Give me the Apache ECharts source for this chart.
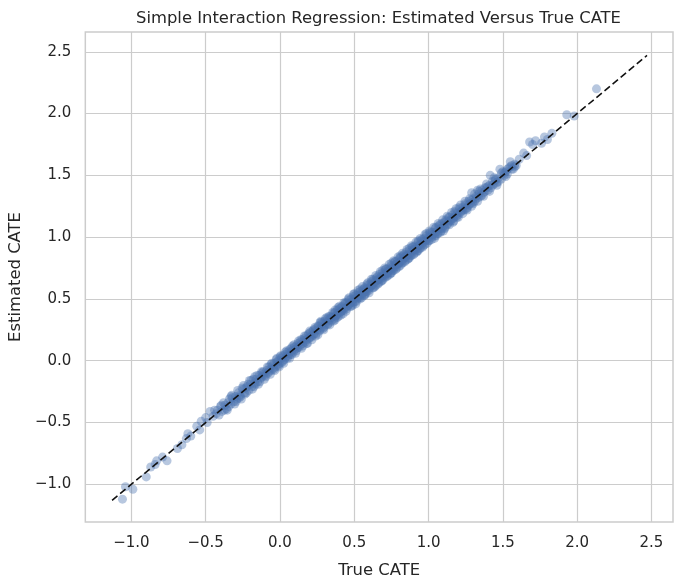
<!DOCTYPE html>
<html><head><meta charset="utf-8">
<script src="https://cdn.jsdelivr.net/npm/echarts@6/dist/echarts.min.js"></script>
<style>html,body{margin:0;padding:0;background:#fff}#c{width:684px;height:584px}</style>
</head><body><div id="c"></div>
<script>
// [True CATE, Estimated CATE] pairs
const cateSamples = [
[-1.06,-1.12],[-1.04,-1.02],[-0.99,-1.04],[-0.90,-0.94],[-0.87,-0.86],[-0.84,-0.84],[-0.83,-0.81],[-0.79,-0.78],[-0.76,-0.81],[-0.69,-0.71],[-0.66,-0.68],[-0.63,-0.63],[-0.62,-0.59],[-0.60,-0.61],[-0.56,-0.53],[-0.54,-0.56],[-0.53,-0.49],[-0.50,-0.46],[-0.49,-0.50],[-0.47,-0.41],[-0.45,-0.45],[-0.43,-0.43],[-0.42,-0.40],
[-0.40,-0.37],[-0.39,-0.41],[-0.37,-0.36],[-0.36,-0.39],[-0.35,-0.34],[-0.34,-0.31],[-0.33,-0.35],[-0.32,-0.30],[-0.31,-0.33],[-0.30,-0.29],[-0.29,-0.31],[-0.28,-0.26],[-0.27,-0.28],[-0.26,-0.31],[-0.25,-0.23],[-0.24,-0.26],[-0.23,-0.22],[-0.22,-0.21],[-0.21,-0.24],
[-0.20,-0.19],[-0.19,-0.21],[-0.18,-0.15],[-0.17,-0.18],[-0.165,-0.19],[-0.16,-0.15],[-0.15,-0.17],[-0.14,-0.12],[-0.13,-0.14],[-0.12,-0.13],[-0.115,-0.09],[-0.11,-0.11],[-0.10,-0.12],[-0.09,-0.08],[-0.08,-0.10],[-0.075,-0.05],[-0.07,-0.07],[-0.06,-0.08],[-0.05,-0.04],[-0.045,-0.06],[-0.04,-0.02],[-0.03,-0.05],[-0.02,-0.01],[-0.015,-0.03],[-0.01,0.00],[0.00,-0.02],
[0.01,0.02],[0.015,-0.01],[0.02,0.04],[0.03,0.01],[0.035,0.05],[0.04,0.03],[0.05,0.07],[0.055,0.04],[0.06,0.06],[0.07,0.05],[0.075,0.10],[0.08,0.08],[0.09,0.07],[0.095,0.11],[0.10,0.09],[0.11,0.12],[0.115,0.10],[0.12,0.14],[0.13,0.11],[0.135,0.15],[0.14,0.13],[0.15,0.17],[0.155,0.14],[0.16,0.16],[0.17,0.15],[0.175,0.20],[0.18,0.17],[0.19,0.21],[0.195,0.18],[0.20,0.19],
[0.205,0.23],[0.21,0.20],[0.22,0.24],[0.225,0.21],[0.23,0.22],[0.24,0.26],[0.245,0.22],[0.25,0.25],[0.26,0.28],[0.265,0.24],[0.27,0.31],[0.28,0.27],[0.285,0.30],[0.29,0.26],[0.30,0.32],[0.305,0.29],[0.31,0.31],[0.32,0.34],[0.325,0.30],[0.33,0.33],[0.34,0.36],[0.345,0.32],[0.35,0.35],[0.36,0.38],[0.365,0.34],[0.37,0.39],[0.375,0.36],[0.38,0.37],[0.385,0.41],[0.39,0.38],[0.395,0.36],[0.40,0.42],
[0.405,0.39],[0.41,0.43],[0.415,0.40],[0.42,0.44],[0.425,0.42],[0.43,0.41],[0.435,0.46],[0.44,0.43],[0.45,0.47],[0.455,0.44],[0.46,0.45],[0.465,0.49],[0.47,0.46],[0.475,0.44],[0.48,0.50],[0.485,0.48],[0.49,0.47],[0.495,0.52],[0.50,0.50],[0.505,0.48],[0.51,0.53],[0.515,0.51],[0.52,0.50],[0.525,0.55],[0.53,0.52],[0.535,0.51],[0.54,0.56],[0.545,0.54],[0.55,0.53],[0.555,0.57],[0.56,0.55],[0.565,0.53],[0.57,0.59],[0.575,0.56],[0.58,0.58],[0.585,0.56],[0.59,0.61],[0.595,0.58],[0.60,0.59],
[0.605,0.62],[0.61,0.60],[0.615,0.64],[0.62,0.61],[0.625,0.59],[0.63,0.65],[0.635,0.63],[0.64,0.64],[0.645,0.61],[0.65,0.67],[0.655,0.65],[0.66,0.66],[0.665,0.63],[0.67,0.70],[0.675,0.66],[0.68,0.68],[0.685,0.65],[0.69,0.71],[0.695,0.69],[0.70,0.70],[0.705,0.67],[0.71,0.74],[0.715,0.70],[0.72,0.72],[0.725,0.69],[0.73,0.75],[0.735,0.73],[0.74,0.74],[0.745,0.71],[0.75,0.77],[0.755,0.74],[0.76,0.76],[0.765,0.73],[0.77,0.80],[0.775,0.76],[0.78,0.78],[0.785,0.75],[0.79,0.81],[0.795,0.78],[0.80,0.79],
[0.805,0.83],[0.81,0.80],[0.815,0.84],[0.82,0.81],[0.825,0.79],[0.83,0.85],[0.835,0.83],[0.84,0.84],[0.845,0.81],[0.85,0.88],[0.855,0.85],[0.86,0.86],[0.865,0.83],[0.87,0.89],[0.875,0.86],[0.88,0.88],[0.885,0.85],[0.89,0.92],[0.895,0.89],[0.90,0.90],[0.905,0.87],[0.91,0.93],[0.915,0.90],[0.92,0.92],[0.925,0.89],[0.93,0.96],[0.935,0.93],[0.94,0.94],[0.945,0.91],[0.95,0.97],[0.955,0.94],[0.96,0.96],[0.965,0.93],[0.97,0.99],[0.98,0.97],[0.985,1.01],[0.99,0.98],[1.00,1.00],
[1.005,0.97],[1.01,1.03],[1.02,1.00],[1.025,1.04],[1.03,1.02],[1.04,1.01],[1.045,1.07],[1.05,1.04],[1.06,1.06],[1.065,1.03],[1.07,1.09],[1.08,1.07],[1.085,1.05],[1.09,1.11],[1.10,1.09],[1.105,1.12],[1.11,1.08],[1.12,1.13],[1.13,1.11],[1.135,1.16],[1.14,1.13],[1.15,1.14],[1.16,1.18],[1.165,1.15],[1.17,1.16],[1.18,1.20],[1.185,1.17],[1.19,1.19],[1.20,1.18],
[1.21,1.23],[1.22,1.21],[1.23,1.24],[1.24,1.22],[1.25,1.26],[1.26,1.24],[1.27,1.29],[1.28,1.27],[1.29,1.36],[1.295,1.28],[1.30,1.31],[1.31,1.29],[1.32,1.33],[1.33,1.38],[1.335,1.32],[1.34,1.35],[1.35,1.33],[1.36,1.38],[1.37,1.36],[1.38,1.37],[1.39,1.40],[1.40,1.38],
[1.41,1.42],[1.415,1.50],[1.42,1.40],[1.43,1.45],[1.44,1.43],[1.45,1.46],[1.46,1.44],[1.47,1.48],[1.48,1.55],[1.49,1.47],[1.50,1.53],[1.51,1.50],[1.52,1.53],[1.53,1.51],[1.55,1.57],[1.55,1.61],[1.56,1.55],[1.58,1.59],[1.59,1.58],
[1.61,1.63],[1.64,1.68],[1.66,1.66],[1.68,1.77],[1.70,1.75],[1.72,1.78],[1.76,1.76],[1.78,1.81],[1.80,1.79],[1.83,1.84],[1.93,1.99],[1.98,1.98],[2.13,2.20],
[-0.44,-0.40],[-0.41,-0.44],[-0.38,-0.34],[-0.355,-0.40],[-0.33,-0.29],[-0.305,-0.35],[-0.285,-0.24],[-0.265,-0.29],[-0.245,-0.20],[-0.225,-0.26],[-0.205,-0.16],[-0.185,-0.23],[-0.17,-0.13],[-0.145,-0.19],[-0.125,-0.09],[-0.105,-0.15],[-0.085,-0.05],[-0.065,-0.11],[-0.055,-0.02],[-0.035,-0.08],[-0.025,0.01],[-0.005,-0.05],
[0.005,0.04],[0.025,-0.02],[0.045,0.08],[0.065,0.02],[0.085,0.12],[0.105,0.06],[0.125,0.16],[0.145,0.10],[0.165,0.20],[0.185,0.14],[0.20,0.24],[0.215,0.17],[0.235,0.27],[0.255,0.21],[0.275,0.32],[0.295,0.25],[0.315,0.35],[0.335,0.29],[0.355,0.39],[0.37,0.33],[0.39,0.43],[0.41,0.37],[0.43,0.47],[0.445,0.40],[0.46,0.50],[0.48,0.44],[0.495,0.54],
[0.51,0.46],[0.525,0.57],[0.54,0.50],[0.555,0.60],[0.57,0.53],[0.585,0.62],[0.60,0.55],[0.615,0.66],[0.63,0.59],[0.645,0.69],[0.66,0.62],[0.675,0.72],[0.69,0.65],[0.705,0.75],[0.72,0.68],[0.735,0.78],[0.75,0.71],[0.765,0.81],[0.78,0.74],[0.795,0.84],[0.81,0.77],[0.825,0.87],[0.84,0.80],[0.855,0.90],[0.87,0.83],[0.885,0.93],[0.90,0.86],[0.915,0.96],[0.93,0.89],[0.945,0.99],[0.96,0.92],[0.975,1.02],[0.99,0.95],
[1.005,1.05],[1.02,0.98],[1.035,1.08],[1.05,1.01],[1.065,1.11],[1.08,1.04],[1.095,1.14],[1.11,1.07],[1.125,1.17],[1.14,1.10],[1.155,1.20],[1.17,1.13],[1.185,1.23],[1.20,1.16],[1.215,1.26],[1.23,1.19],[1.245,1.29],[1.26,1.22],[1.275,1.31],[1.29,1.25],[1.31,1.35],[1.33,1.29],[1.35,1.39],[1.37,1.33],[1.39,1.43],[1.41,1.37],[1.44,1.48],[1.46,1.42],[1.49,1.52],[1.52,1.49],[1.54,1.56],[1.57,1.55],
[-0.395,-0.36],[-0.375,-0.40],[-0.345,-0.37],[-0.325,-0.28],[-0.295,-0.33],[-0.275,-0.30],[-0.255,-0.22],[-0.235,-0.27],[-0.215,-0.19],[-0.195,-0.16],[-0.175,-0.21],[-0.155,-0.12],[-0.135,-0.17],[-0.12,-0.10],[-0.095,-0.13],[-0.075,-0.09],[-0.06,-0.03],[-0.04,-0.07],[-0.02,0.02],[-0.01,-0.04],
[0.00,0.03],[0.02,0.00],[0.035,0.07],[0.05,0.02],[0.065,0.09],[0.08,0.05],[0.095,0.13],[0.11,0.08],[0.12,0.11],[0.14,0.17],[0.155,0.12],[0.165,0.18],[0.18,0.14],[0.195,0.22],[0.21,0.19],[0.225,0.25],[0.24,0.20],[0.255,0.28],[0.27,0.25],[0.28,0.31],[0.295,0.27],[0.305,0.34],[0.32,0.29],[0.33,0.36],[0.345,0.35],[0.36,0.32],[0.37,0.41],[0.385,0.35],[0.40,0.44],[0.41,0.40],[0.425,0.38],[0.44,0.47],[0.45,0.42],[0.465,0.51],[0.475,0.47],[0.49,0.45],[0.50,0.54],[0.515,0.48],[0.525,0.53],[0.54,0.58],[0.55,0.51],[0.565,0.58],[0.575,0.54],[0.59,0.63],[0.60,0.57],
[0.615,0.61],[0.625,0.66],[0.64,0.60],[0.655,0.68],[0.665,0.66],[0.68,0.64],[0.69,0.73],[0.70,0.68],[0.715,0.74],[0.725,0.71],[0.74,0.70],[0.75,0.79],[0.76,0.73],[0.775,0.80],[0.785,0.78],[0.80,0.76],[0.81,0.85],[0.82,0.79],[0.835,0.86],[0.845,0.84],[0.86,0.82],[0.87,0.91],[0.88,0.85],[0.895,0.92],[0.905,0.90],[0.92,0.88],[0.93,0.97],[0.94,0.91],[0.955,0.98],[0.965,0.96],[0.975,0.94],[0.985,1.03],[1.00,0.97],[1.01,1.04],[1.025,1.02],[1.04,0.99],[1.05,1.08],[1.06,1.03],[1.075,1.10],[1.09,1.07],[1.10,1.05],[1.115,1.14],[1.125,1.10],[1.14,1.16],[1.15,1.13],[1.165,1.12],[1.175,1.21],[1.19,1.16],
[1.205,1.24],[1.215,1.20],[1.23,1.22],[1.245,1.27],[1.255,1.23],[1.27,1.26],[1.285,1.30],[1.30,1.27],[1.32,1.31],[1.34,1.37],[1.36,1.34],[1.38,1.40],[1.40,1.41],[1.43,1.42],[1.45,1.47],[1.47,1.45],[1.51,1.52],[1.53,1.55],[1.56,1.58],[1.58,1.57]
];
// reference (perfect estimate) diagonal endpoints
const diagonalEnds = [-1.13, 2.47];
const xTickValues = [-1.0, -0.5, 0.0, 0.5, 1.0, 1.5, 2.0, 2.5];
const yTickValues = [-1.0, -0.5, 0.0, 0.5, 1.0, 1.5, 2.0, 2.5];
const axisRange = { xMin: -1.31, xMax: 2.645, yMin: -1.305, yMax: 2.66 };

const FONT = 'DejaVu Sans';
const TXT = '#262626';
const fmt = v => (v < 0 ? '\u2212' : '') + Math.abs(v).toFixed(1);

const chart = echarts.init(document.getElementById('c'), null, { renderer: 'canvas' });
chart.setOption({
  animation: false,
  backgroundColor: '#ffffff',
  title: {
    text: 'Simple Interaction Regression: Estimated Versus True CATE',
    left: 378.5, top: 11, textAlign: 'center', padding: 0,
    textStyle: { fontFamily: FONT, fontSize: 16.4, fontWeight: 'normal', color: TXT }
  },
  grid: {
    left: 84, right: 11, top: 32, bottom: 62,
    show: true, borderColor: '#cccccc', borderWidth: 1.5, backgroundColor: 'transparent'
  },
  xAxis: {
    type: 'value', min: axisRange.xMin, max: axisRange.xMax,
    name: 'True CATE', nameLocation: 'middle', nameGap: 41,
    nameTextStyle: { fontFamily: FONT, fontSize: 16.4, color: TXT },
    axisLine: { show: false },
    axisTick: { show: false, customValues: xTickValues },
    axisLabel: { customValues: xTickValues, formatter: fmt, margin: 14,
      fontFamily: FONT, fontSize: 15, color: TXT },
    splitLine: { show: true, lineStyle: { color: '#cccccc', width: 1.2 } }
  },
  yAxis: {
    type: 'value', min: axisRange.yMin, max: axisRange.yMax,
    name: 'Estimated CATE', nameLocation: 'middle', nameGap: 57,
    nameTextStyle: { fontFamily: FONT, fontSize: 16.4, color: TXT },
    axisLine: { show: false },
    axisTick: { show: false, customValues: yTickValues },
    axisLabel: { customValues: yTickValues, formatter: fmt, margin: 14,
      fontFamily: FONT, fontSize: 15, color: TXT },
    splitLine: { show: true, lineStyle: { color: '#cccccc', width: 1.2 } }
  },
  series: [
    {
      type: 'scatter', data: cateSamples, symbol: 'circle', symbolSize: 9,
      itemStyle: { color: 'rgba(76,114,176,0.5)', borderWidth: 0 },
      emphasis: { disabled: true }, z: 2
    },
    {
      type: 'line', data: [[diagonalEnds[0], diagonalEnds[0]], [diagonalEnds[1], diagonalEnds[1]]],
      symbol: 'none', silent: true, z: 3,
      lineStyle: { color: '#111111', width: 1.6, type: [7, 3.5] }
    }
  ]
});
</script>
</body></html>
